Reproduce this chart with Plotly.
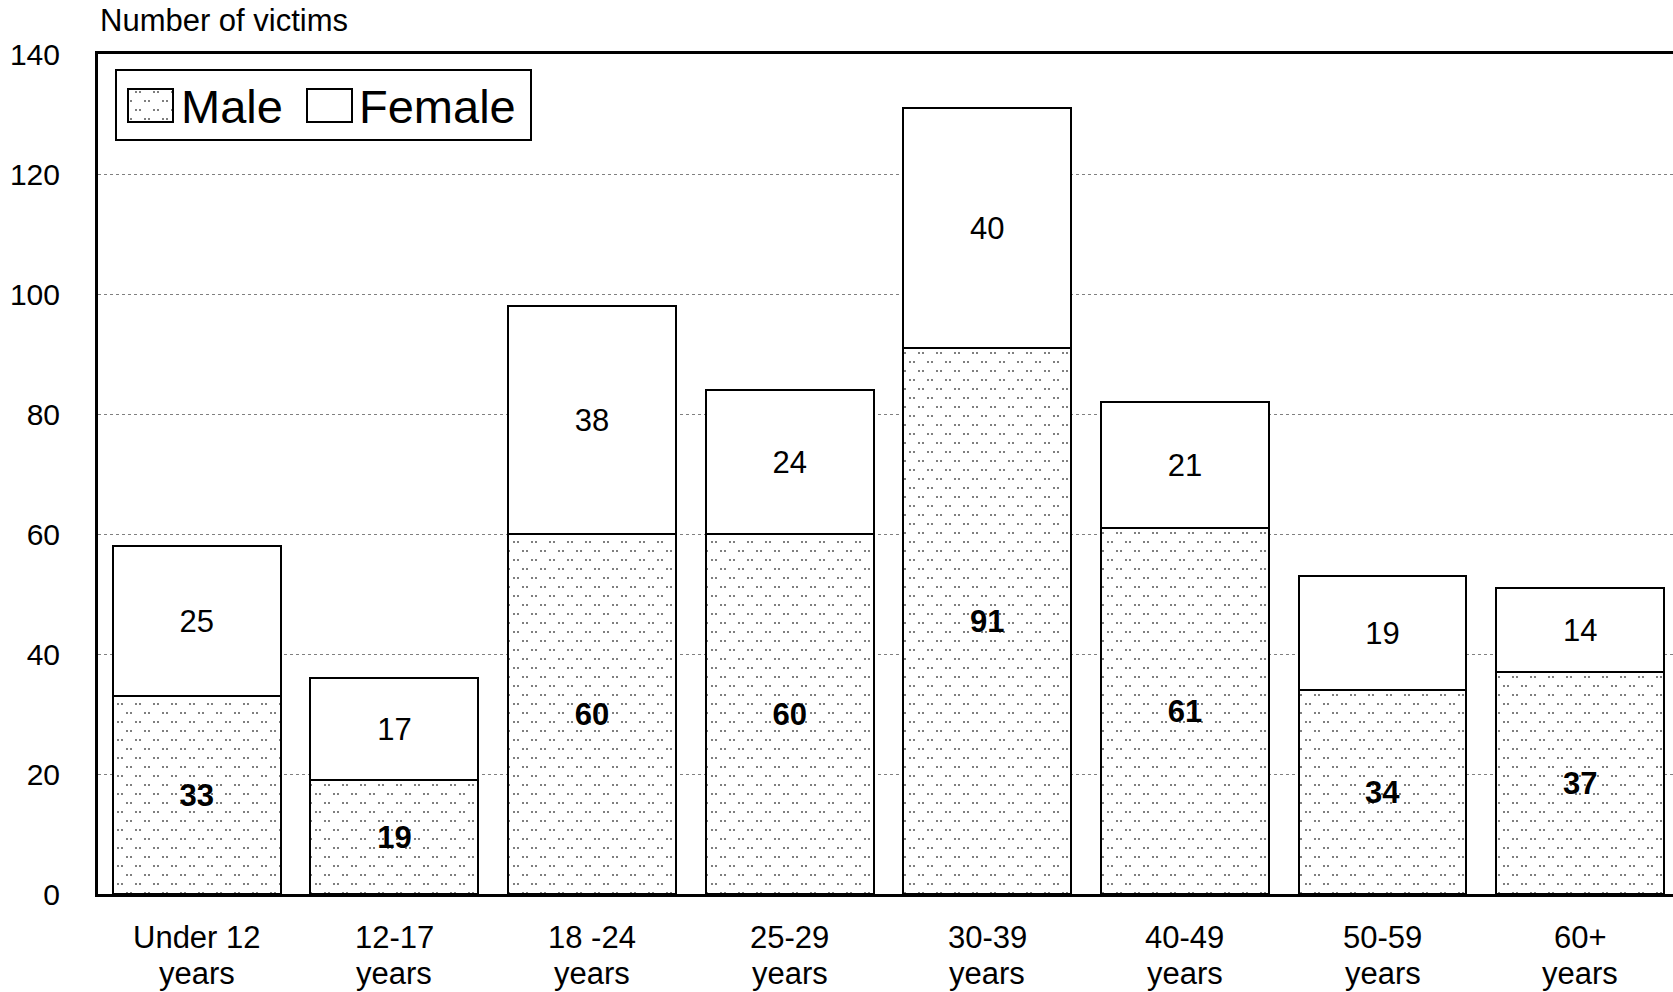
import plotly.graph_objects as go

# Victims by age group and sex
age_groups = ["Under 12", "12-17", "18 -24", "25-29", "30-39", "40-49", "50-59", "60+"]
age_unit = "years"
male = [33, 19, 60, 60, 91, 61, 34, 37]
female = [25, 17, 38, 24, 40, 21, 19, 14]
y_ticks = [0, 20, 40, 60, 80, 100, 120, 140]

FONT = "Liberation Sans, Arial, sans-serif"
W, H = 1673, 992
M_L, M_R, M_T, M_B = 98, 0, 54, 98
PLOT_H = H - M_T - M_B

# Stippled fill: staggered pairs of small dots
stipple = dict(path="M1,1h2v2h-2z M5,1h2v2h-2z M10,10h2v2h-2z M14,10h2v2h-2z",
               fgcolor="black", bgcolor="white", size=18, solidity=0.5)

fig = go.Figure()

fig.add_trace(go.Bar(
    x=age_groups, y=male, name="Male",
    marker=dict(color="white", line=dict(color="black", width=2), pattern=stipple),
    text=male, textposition="inside", insidetextanchor="middle", textangle=0,
    textfont=dict(family=FONT, size=31, color="black", weight="bold"),
    showlegend=False,
))
fig.add_trace(go.Bar(
    x=age_groups, y=female, name="Female",
    marker=dict(color="white", line=dict(color="black", width=2)),
    text=female, textposition="inside", insidetextanchor="middle", textangle=0,
    textfont=dict(family=FONT, size=31, color="black"),
    showlegend=False,
))

# Legend swatches drawn on a pixel-unit overlay axis
swatch_top, swatch_h, swatch_w = 89, 33, 45
swatch_x = [150.5, 329.5]
fig.add_trace(go.Bar(
    x=[swatch_x[0]], y=[swatch_h], base=[swatch_top], width=[swatch_w],
    xaxis="x2", yaxis="y2", showlegend=False, hoverinfo="skip",
    marker=dict(color="white", line=dict(color="black", width=2), pattern=stipple),
))
fig.add_trace(go.Bar(
    x=[swatch_x[1]], y=[swatch_h], base=[swatch_top], width=[swatch_w],
    xaxis="x2", yaxis="y2", showlegend=False, hoverinfo="skip",
    marker=dict(color="white", line=dict(color="black", width=2)),
))

fig.update_layout(
    width=W, height=H,
    margin=dict(l=M_L, r=M_R, t=M_T, b=M_B, pad=0),
    paper_bgcolor="white", plot_bgcolor="white",
    barmode="stack", bargap=0.15,
    font=dict(family=FONT, size=31, color="black"),
    xaxis=dict(
        range=[-0.5, 7.47], showline=True, linecolor="black", linewidth=3,
        mirror=True, ticks="", showgrid=False, zeroline=False,
        showticklabels=False,
    ),
    yaxis=dict(
        range=[0, 140], tickvals=y_ticks, showline=True, linecolor="black",
        linewidth=3, ticks="", showgrid=True, gridcolor="#808080",
        griddash="dot", gridwidth=1, zeroline=False,
        tickfont=dict(size=30), ticklabelstandoff=29,
    ),
    xaxis2=dict(overlaying="x", range=[M_L, W], visible=False, fixedrange=True),
    yaxis2=dict(overlaying="y", range=[H - M_B, M_T], visible=False, fixedrange=True),
)

# Two-line category labels under each bar
for cat in age_groups:
    fig.add_annotation(x=cat, y=-43 / PLOT_H, xref="x", yref="paper", text=cat,
                       showarrow=False, xanchor="center", yanchor="middle",
                       font=dict(size=31))
    fig.add_annotation(x=cat, y=-79 / PLOT_H, xref="x", yref="paper", text=age_unit,
                       showarrow=False, xanchor="center", yanchor="middle",
                       font=dict(size=31))

# Legend frame and labels
fig.add_shape(type="rect", xref="x2", yref="y2", x0=116, x1=531, y0=70, y1=140,
              line=dict(color="black", width=2), fillcolor="rgba(0,0,0,0)", layer="above")
fig.add_annotation(x=179, y=106, xref="x2", yref="y2", text="Male", showarrow=False,
                   xanchor="left", yanchor="middle", font=dict(size=47))
fig.add_annotation(x=357, y=106, xref="x2", yref="y2", text="Female", showarrow=False,
                   xanchor="left", yanchor="middle", font=dict(size=47))

# Axis title above the y axis
fig.add_annotation(x=0, y=(H - M_B - 21) / PLOT_H, xref="paper", yref="paper",
                   text="Number of victims", showarrow=False, xanchor="left",
                   yanchor="middle", font=dict(size=31))

fig.write_html("out.html")
